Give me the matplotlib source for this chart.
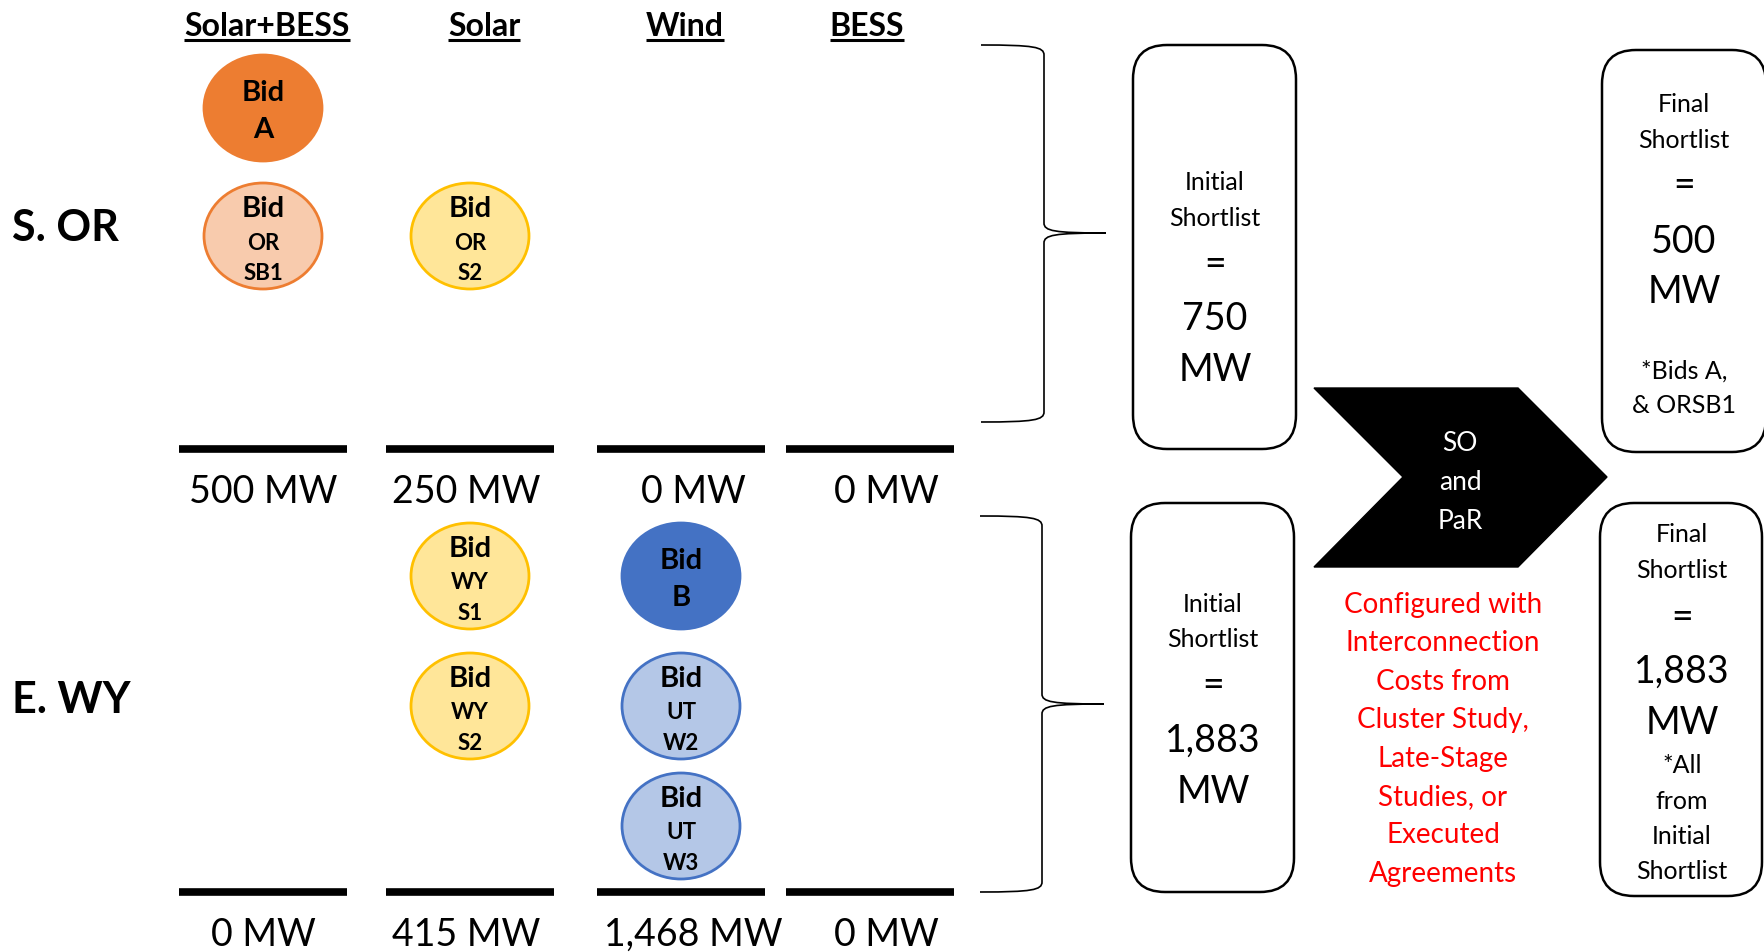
import matplotlib
matplotlib.use("Agg")
import matplotlib.pyplot as plt
from matplotlib.patches import Ellipse, FancyBboxPatch, Polygon, PathPatch
from matplotlib.path import Path

plt.rcParams['font.family'] = ['Lato', 'DejaVu Sans']

# ---------------- data ----------------
categories = ['Solar+BESS', 'Solar', 'Wind', 'BESS']
regions = ['S. OR', 'E. WY']
s_or_mw = [500, 250, 0, 0]
e_wy_mw = [0, 415, 1468, 0]
initial_shortlist_mw = [750, 1883]
final_shortlist_mw = [500, 1883]
final_notes = [['*Bids A,', '& ORSB1'], ['*All', 'from', 'Initial', 'Shortlist']]

bid_region = [0, 0, 0, 1, 1, 1, 1, 1]
bid_category = [0, 0, 1, 1, 1, 2, 2, 2]
bid_slot = [0, 1, 1, 0, 1, 0, 1, 2]
bid_lines = [['A'], ['OR', 'SB1'], ['OR', 'S2'], ['WY', 'S1'], ['WY', 'S2'],
             ['B'], ['UT', 'W2'], ['UT', 'W3']]
bid_style = ['sb_dark', 'sb_light', 'solar', 'solar', 'solar',
             'wind_dark', 'wind_light', 'wind_light']
process_label = ['SO', 'and', 'PaR']
process_note = ['Configured with', 'Interconnection', 'Costs from', 'Cluster Study,',
                'Late-Stage', 'Studies, or', 'Executed', 'Agreements']

# ---------------- styles / layout ----------------
styles = {
    'sb_dark': ('#ED7D31', '#ED7D31'),
    'sb_light': ('#F8CBAD', '#ED7D31'),
    'solar': ('#FFE699', '#FFC000'),
    'wind_dark': ('#4472C4', '#4472C4'),
    'wind_light': ('#B4C7E7', '#4472C4'),
}
W, H = 1764, 953
DY = 3  # text vertical nudge
col_x = [263, 470, 681, 870]
bar_half = 84
bar_y = [450, 893]
mw_y = [489, 932]
region_y = [225, 697]
slot_y = [[109, 237, 365], [577, 707, 827]]
ell_w, ell_h = 118, 106

fig = plt.figure(figsize=(W / 100, H / 100), dpi=100)
ax = fig.add_axes([0, 0, 1, 1])
ax.set_xlim(0, W)
ax.set_ylim(H, 0)
ax.axis('off')


def txt(x, y, s, **kw):
    return ax.text(x, y + DY, s, ha='center', va='center', **kw)


# headers
hdr = []
for c, name in enumerate(categories):
    t = txt(col_x[c] + [4, 14, 4, -3][c], 24, name, fontsize=23, fontweight='bold')
    hdr.append(t)

# region labels
for r, name in enumerate(regions):
    ax.text(12, region_y[r] + DY, name, ha='left', va='center', fontsize=31, fontweight='bold')

# bars and MW labels
for r, vals in enumerate([s_or_mw, e_wy_mw]):
    for c, v in enumerate(vals):
        ax.plot([col_x[c] - bar_half, col_x[c] + bar_half], [bar_y[r], bar_y[r]],
                color='black', lw=5.5, solid_capstyle='butt')
        txt(col_x[c] + [0, -4, 12, 16][c], mw_y[r], f"{v:,} MW", fontsize=27)

# bids
for i in range(len(bid_lines)):
    r, c, s = bid_region[i], bid_category[i], bid_slot[i]
    x, y = col_x[c], slot_y[r][s]
    fc, ec = styles[bid_style[i]]
    ax.add_patch(Ellipse((x, y), ell_w, ell_h, facecolor=fc, edgecolor=ec, lw=2.0))
    lines = bid_lines[i]
    if len(lines) == 1:
        txt(x, y - 19, 'Bid', fontsize=21, fontweight='bold')
        txt(x, y + 18, lines[0], fontsize=21, fontweight='bold')
    else:
        txt(x, y - 31, 'Bid', fontsize=21, fontweight='bold')
        txt(x, y + 3, lines[0], fontsize=16, fontweight='bold')
        txt(x, y + 34, lines[1], fontsize=16, fontweight='bold')


# braces
def brace(x0, xv, xt, y0, yt, y1, r=10):
    verts = [(x0, y0), (xv - 10, y0), (xv, y0 + 2), (xv, y0 + r),
             (xv, yt - r),
             (xv, yt - 2), (xv + 10, yt), (xt, yt),
             (xv + 10, yt), (xv, yt + 2), (xv, yt + r),
             (xv, y1 - r),
             (xv, y1 - 2), (xv - 10, y1), (x0, y1)]
    codes = [Path.MOVETO, Path.CURVE4, Path.CURVE4, Path.CURVE4,
             Path.LINETO,
             Path.CURVE4, Path.CURVE4, Path.CURVE4,
             Path.CURVE4, Path.CURVE4, Path.CURVE4,
             Path.LINETO,
             Path.CURVE4, Path.CURVE4, Path.CURVE4]
    ax.add_patch(PathPatch(Path(verts, codes), facecolor='none', edgecolor='black', lw=1.2))


brace(981, 1044, 1106, 46, 234, 423)
brace(980, 1042, 1104, 517, 705, 893)


# rounded boxes
def rbox(x0, y0, x1, y1):
    ax.add_patch(FancyBboxPatch((x0, y0), x1 - x0, y1 - y0,
                                boxstyle='round,pad=0,rounding_size=34',
                                facecolor='white', edgecolor='black', lw=1.8))


rbox(1133, 46, 1296, 450)
rbox(1131, 504, 1294, 893)
rbox(1602, 51, 1766, 453)
rbox(1600, 504, 1762, 897)

# initial shortlist box texts
init_x = [1215, 1213]
init_y = [[180, 216, 262, 316, 367], [602, 637, 683, 738, 789]]
for k, v in enumerate(initial_shortlist_mw):
    ys = init_y[k]
    txt(init_x[k], ys[0], 'Initial', fontsize=18)
    txt(init_x[k], ys[1], 'Shortlist', fontsize=18)
    txt(init_x[k], ys[2], '=', fontsize=27)
    txt(init_x[k], ys[3], f"{v:,}", fontsize=27)
    txt(init_x[k], ys[4], 'MW', fontsize=27)

# final shortlist box texts
fin_x = [1684, 1682]
fin_y = [[102, 137, 183, 239, 289], [532, 568, 615, 669, 720]]
note_y = [[368, 403], [763, 799, 834, 869]]
for k, v in enumerate(final_shortlist_mw):
    ys = fin_y[k]
    txt(fin_x[k], ys[0], 'Final', fontsize=18)
    txt(fin_x[k], ys[1], 'Shortlist', fontsize=18)
    txt(fin_x[k], ys[2], '=', fontsize=27)
    txt(fin_x[k], ys[3], f"{v:,}", fontsize=27)
    txt(fin_x[k], ys[4], 'MW', fontsize=27)
    for line, yy in zip(final_notes[k], note_y[k]):
        txt(fin_x[k], yy, line, fontsize=18)

# chevron
ax.add_patch(Polygon([(1314, 389), (1518, 389), (1607, 478), (1518, 568),
                      (1314, 568), (1403, 478)], closed=True,
                     facecolor='black', edgecolor='black'))
for line, yy in zip(process_label, [441, 480, 519]):
    txt(1460, yy, line, fontsize=19, color='white')

for k, line in enumerate(process_note):
    txt(1443, 602 + k * 38.4, line, fontsize=20, color='#FF0000')

# underline headers
fig.canvas.draw()
inv = ax.transData.inverted()
for t in hdr:
    bb = t.get_window_extent()
    (xa, ya), (xb, yb) = inv.transform([(bb.x0, bb.y0), (bb.x1, bb.y1)])
    ax.plot([xa, xb], [41, 41], color='black', lw=2.2, solid_capstyle='butt')

fig.savefig('out.png', dpi=100)
